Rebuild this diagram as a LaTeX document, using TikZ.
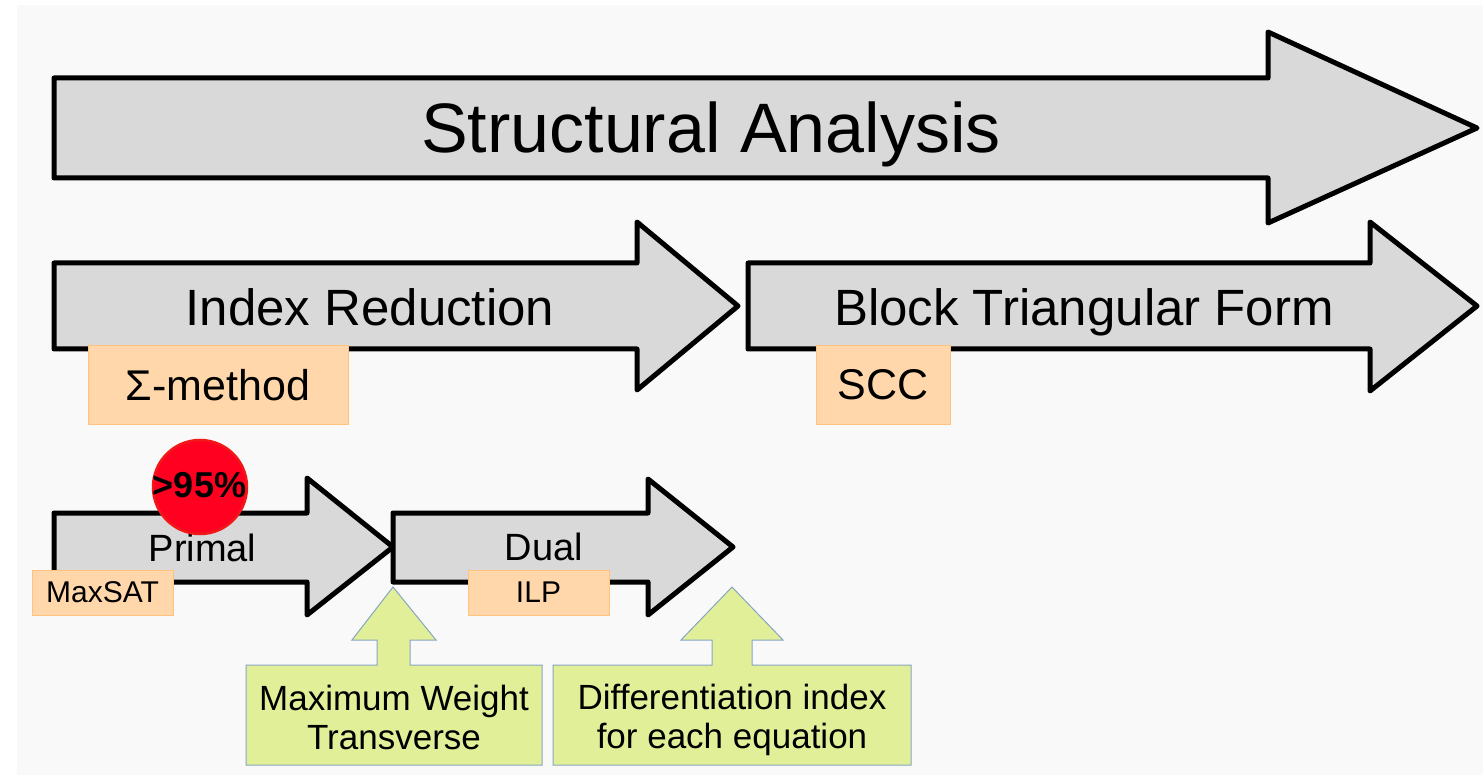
\documentclass[tikz,border=0pt]{standalone}
\usepackage{fontspec}
\setmainfont{Liberation Sans}
\definecolor{bgc}{RGB}{249,249,249}
\definecolor{arrowgray}{RGB}{217,217,217}
\definecolor{tagfill}{RGB}{255,215,170}
\definecolor{tagborder}{RGB}{255,195,125}
\definecolor{notefill}{RGB}{225,240,152}
\definecolor{noteborder}{RGB}{135,165,195}
\definecolor{badgefill}{RGB}{255,0,32}
\definecolor{badgeborder}{RGB}{240,24,24}
\begin{document}
\begin{tikzpicture}[x=1pt,y=-1pt,
  stage/.style={draw=black, fill=arrowgray, line width=5pt, line join=round},
  tag/.style={draw=tagborder, fill=tagfill, line width=1pt, inner sep=0pt},
  note/.style={draw=noteborder, fill=notefill, line width=1pt},
  lbl/.style={text=black, inner sep=0pt},
  hugefont/.style={font=\fontsize{70}{84}\selectfont},
  bigfont/.style={font=\fontsize{51}{61}\selectfont},
  tagfont/.style={font=\fontsize{43}{52}\selectfont},
  midfont/.style={font=\fontsize{38}{46}\selectfont},
  smallfont/.style={font=\fontsize{30}{36}\selectfont},
  notefont/.style={font=\fontsize{35}{39}\selectfont}]
\useasboundingbox (0,0) rectangle (1483,775);
\fill[white] (0,0) rectangle (1483,775);
\fill[bgc] (17,5) rectangle (1483,775);

% Structural Analysis
\draw[stage] (54,78) -- (1268,78) -- (1268,32) -- (1477,128) -- (1268,223) -- (1268,178) -- (54,178) -- cycle;
\node[lbl, hugefont, anchor=base] (sa) at (711,153) {Structural Analysis};

% Index Reduction
\draw[stage] (54,263) -- (637,263) -- (637,222) -- (738,306) -- (637,390) -- (637,349) -- (54,349) -- cycle;
\node[lbl, bigfont, anchor=base] (ir) at (370,326) {Index Reduction};

% Block Triangular Form
\draw[stage] (748,263) -- (1370,263) -- (1370,222) -- (1477,306) -- (1370,391) -- (1370,349) -- (748,349) -- cycle;
\node[lbl, bigfont, anchor=base] (btf) at (1084,326) {Block Triangular Form};

\node[tag, tagfont, minimum width=260pt, minimum height=78pt] (sigma) at (218,385) {Σ-method};
\node[tag, tagfont, minimum width=134pt, minimum height=78pt] (scc) at (883,385) {SCC};

% Primal
\draw[stage] (54,513) -- (307,513) -- (307,478) -- (393,547) -- (307,615) -- (307,582) -- (54,582) -- cycle;
\node[lbl, midfont, anchor=base] (primal) at (202.5,561) {Primal};

% Dual
\draw[stage] (393,513) -- (648,513) -- (648,479) -- (733,547) -- (648,615) -- (648,582) -- (393,582) -- cycle;
\node[lbl, midfont, anchor=base] (dual) at (544,560) {Dual};

\node[tag, smallfont, minimum width=141pt, minimum height=45pt] (maxsat) at (102.5,592.5) {MaxSAT};
\node[tag, smallfont, minimum width=141pt, minimum height=45pt] (ilp) at (538.5,592.5) {ILP};

% badge
\node[circle, fill=badgefill, draw=badgeborder, line width=2.5pt, minimum size=94pt, inner sep=0pt] (badge) at (200,487) {};
\node[lbl, font=\fontsize{36}{43}\selectfont\bfseries, anchor=base] (pct) at (199.5,497) {>95\%};

% callouts
\draw[note] (246,765) -- (246,665) -- (377,665) -- (377,640) -- (352,640) -- (393,587) -- (436,640) -- (410,640) -- (410,665) -- (542,665) -- (542,765) -- cycle;
\node[lbl, notefont, align=center] (mwt) at (394,717) {Maximum Weight\\Transverse};

\draw[note] (553,765) -- (553,665) -- (712,665) -- (712,640) -- (681,640) -- (732,587) -- (783,640) -- (752,640) -- (752,665) -- (911,665) -- (911,765) -- cycle;
\node[lbl, notefont, align=center] (dix) at (732,720) {Differentiation index\\for each equation};
\end{tikzpicture}
\end{document}
